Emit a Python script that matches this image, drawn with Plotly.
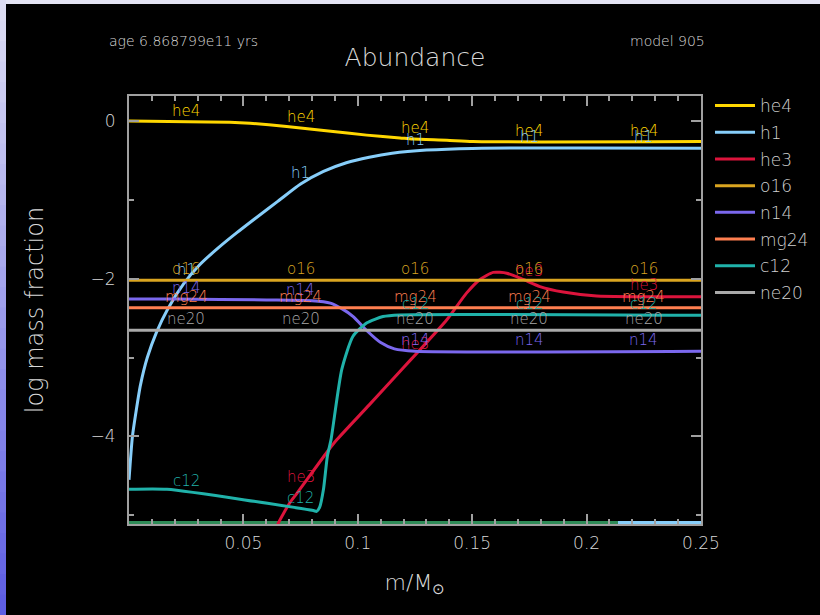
import numpy as np
import plotly.graph_objects as go

# ---------------- data ----------------
he4_x = [0.0, 0.0258, 0.0441, 0.0529, 0.0689, 0.0892, 0.1039, 0.1184, 0.1241, 0.1389, 0.1503, 0.25]
he4_y = [0.0, -0.01, -0.017, -0.03, -0.07, -0.135, -0.18, -0.215, -0.23, -0.245, -0.262, -0.262]

h1_x = [0.0, 0.0005, 0.0015, 0.003, 0.005, 0.008, 0.012, 0.017, 0.024, 0.031, 0.039, 0.047,
        0.055, 0.065, 0.075, 0.085, 0.095, 0.105, 0.115, 0.13, 0.15, 0.25]
h1_y = [-4.55, -4.35, -4.0, -3.7, -3.35, -3.0, -2.68, -2.38, -2.06, -1.82, -1.61, -1.42,
        -1.24, -1.02, -0.80, -0.64, -0.53, -0.46, -0.41, -0.37, -0.348, -0.345]

he3_x = [0.0635, 0.0651, 0.0703, 0.0737, 0.0865, 0.0909, 0.105, 0.1192, 0.1272, 0.1389, 0.1476,
         0.1534, 0.1592, 0.1651, 0.1723, 0.1796, 0.1898, 0.2044, 0.25]
he3_y = [-5.3, -5.11, -4.84, -4.71, -4.2, -4.04, -3.6, -3.15, -2.9, -2.52, -2.18,
         -2.01, -1.92, -1.93, -2.01, -2.1, -2.17, -2.22, -2.23]

o16_x = [0.0, 0.25]
o16_y = [-2.02, -2.02]

n14_x = [0.0, 0.02, 0.06, 0.08, 0.088, 0.093, 0.098, 0.104, 0.11, 0.116, 0.125, 0.25]
n14_y = [-2.257, -2.257, -2.27, -2.28, -2.31, -2.38, -2.48, -2.66, -2.81, -2.89, -2.92, -2.92]

mg24_x = [0.0, 0.25]
mg24_y = [-2.37, -2.37]

c12_x = [0.0, 0.0166, 0.0806, 0.082, 0.0833, 0.085, 0.0867, 0.0883, 0.093, 0.0979, 0.104, 0.111, 0.1184, 0.25]
c12_y = [-4.67, -4.67, -4.94, -4.95, -4.9, -4.67, -4.25, -4.04, -3.15, -2.73, -2.56, -2.48, -2.46, -2.465]

ne20_x = [0.0, 0.25]
ne20_y = [-2.655, -2.655]

# species sitting at the floor of the plot (not in the legend)
floor1_x = [0.0, 0.2137]
floor1_y = [-5.09, -5.09]
floor2_x = [0.2137, 0.25]
floor2_y = [-5.09, -5.09]

label_x = [0.025, 0.075, 0.125, 0.175, 0.225]

x_tickvals = [0.05, 0.1, 0.15, 0.2, 0.25]
x_ticktext = ["0.05", "0.1", "0.15", "0.2", "0.25"]
y_tickvals = [0, -2, -4]
y_ticktext = ["0", "\u22122", "\u22124"]

# ---------------- styling ----------------
W, H = 820, 615
L, R, T, B = 129, 119, 96, 91
XR = [0.0, 0.25]
YR = [-5.11, 0.316]
FONT = "'DejaVu Sans', Roboto, sans-serif"
WT = 200

colors = {
    "he4": "#FFD700", "h1": "#87CEFA", "he3": "#DC143C", "o16": "#DAA520",
    "n14": "#7B68EE", "mg24": "#FF7F50", "c12": "#20B2AA", "ne20": "#A9A9A9",
}
curved = {"he4", "h1", "he3", "n14", "c12"}
species = [
    ("he4", he4_x, he4_y), ("h1", h1_x, h1_y), ("he3", he3_x, he3_y),
    ("o16", o16_x, o16_y), ("n14", n14_x, n14_y), ("mg24", mg24_x, mg24_y),
    ("c12", c12_x, c12_y), ("ne20", ne20_x, ne20_y),
]

fig = go.Figure()

fig.add_trace(go.Scatter(x=floor1_x, y=floor1_y, mode="lines", showlegend=False,
                         line=dict(color="#2E8B57", width=3), hoverinfo="skip"))
fig.add_trace(go.Scatter(x=floor2_x, y=floor2_y, mode="lines", showlegend=False,
                         line=dict(color="#87CEFA", width=3), hoverinfo="skip"))

for name, xs, ys in species:
    line = dict(color=colors[name], width=3)
    if name in curved:
        line.update(shape="spline", smoothing=0.6)
    fig.add_trace(go.Scatter(x=xs, y=ys, mode="lines", name=name, legendgroup=name,
                             line=line))

annotations = []
for name, xs, ys in species:
    for lx in label_x:
        ly = float(np.interp(lx, xs, ys))
        if YR[0] + 0.05 < ly < YR[1]:
            annotations.append(dict(x=lx, y=ly, xref="x", yref="y", text=name,
                                    showarrow=False, yshift=11,
                                    font=dict(family=FONT, size=15, color=colors[name], weight=WT)))


def px2paper_x(px):
    return (px - L) / (W - L - R)


def py2paper_y(py):
    return (H - B - py) / (H - T - B)


annotations.append(dict(x=px2paper_x(107), y=py2paper_y(41), xref="paper", yref="paper",
                        xanchor="left", yanchor="middle", showarrow=False,
                        text="age 6.868799e11 yrs",
                        font=dict(family=FONT, size=14, color="#d8d8d8", weight=WT)))
annotations.append(dict(x=px2paper_x(707), y=py2paper_y(41), xref="paper", yref="paper",
                        xanchor="right", yanchor="middle", showarrow=False,
                        text="model 905",
                        font=dict(family=FONT, size=14, color="#d8d8d8", weight=WT)))

# frame decoration: black panel over a lavender page, gradient strip on the left
shapes = [dict(type="rect", xref="paper", yref="paper", layer="below",
               x0=px2paper_x(6), x1=px2paper_x(W + 2), y0=py2paper_y(H + 2), y1=py2paper_y(4),
               fillcolor="black", line=dict(width=0))]
n = 30
c0 = np.array([224, 224, 244])
c1 = np.array([92, 92, 228])
for i in range(n):
    t = (i + 0.5) / n
    c = (c0 * (1 - t) + c1 * t).astype(int)
    shapes.append(dict(type="rect", xref="paper", yref="paper", layer="below",
                       x0=px2paper_x(-1), x1=px2paper_x(6),
                       y0=py2paper_y(H * (i + 1) / n + 1.5), y1=py2paper_y(H * i / n),
                       fillcolor=f"rgb({c[0]},{c[1]},{c[2]})", line=dict(width=0)))

axis_common = dict(showline=True, linecolor="#a0a0a0", linewidth=2, mirror="allticks",
                   ticks="inside", ticklen=10, tickwidth=1.5, tickcolor="#a0a0a0",
                   showgrid=False, zeroline=False,
                   tickfont=dict(family=FONT, size=17, color="#d8d8d8", weight=WT))

fig.update_layout(
    width=W, height=H,
    margin=dict(l=L, r=R, t=T, b=B, autoexpand=False),
    paper_bgcolor="#E4E4F4", plot_bgcolor="black",
    title=dict(text="Abundance", x=px2paper_x(415), xref="paper", xanchor="center",
               y=1 - 57 / H, yanchor="middle",
               font=dict(family=FONT, size=25, color="#d8d8d8", weight=WT)),
    xaxis=dict(range=XR, tickmode="array", tickvals=x_tickvals, ticktext=x_ticktext,
               minor=dict(dtick=0.01, tick0=0, ticks="inside", ticklen=5, tickcolor="#a0a0a0"),
               ticklabelstandoff=3,
               title=dict(text="m/M<sub>\u2299</sub>", standoff=22,
                          font=dict(family=FONT, size=22, color="#d8d8d8", weight=WT)),
               **axis_common),
    yaxis=dict(range=YR, tickmode="array", tickvals=y_tickvals, ticktext=y_ticktext,
               minor=dict(dtick=1, tick0=0, ticks="inside", ticklen=5, tickcolor="#a0a0a0"),
               ticklabelstandoff=8,
               title=dict(text="log mass fraction", standoff=40,
                          font=dict(family=FONT, size=24, color="#d8d8d8", weight=WT)),
               **axis_common),
    legend=dict(x=px2paper_x(710), y=py2paper_y(88), xanchor="left", yanchor="top",
                bgcolor="black", font=dict(family=FONT, size=17, color="#d0d0d0", weight=WT),
                itemwidth=40, tracegroupgap=1.6),
    annotations=annotations,
    shapes=shapes,
)

fig.write_html("out.html", config={"displayModeBar": False},
               post_script="document.body.style.margin='0';document.body.style.overflow='hidden';")
